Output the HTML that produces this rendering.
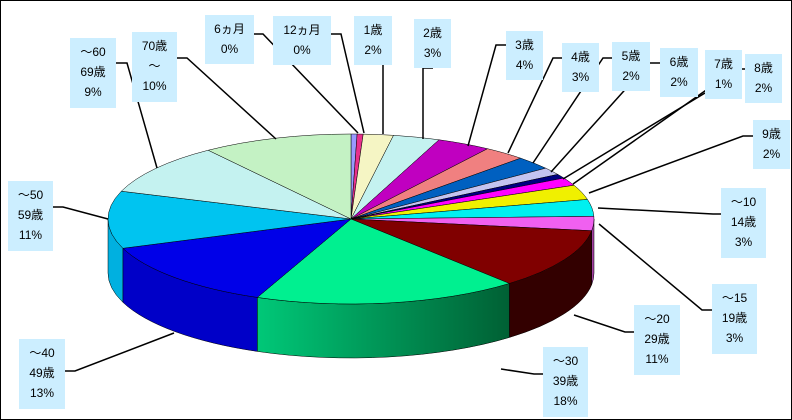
<!DOCTYPE html>
<html><head><meta charset="utf-8"><style>
body{margin:0;background:#fff}
#c{position:relative;width:790px;height:418px;border:1px solid #000;overflow:hidden;background:#fff}
svg{position:absolute;left:0;top:0}
.l{position:absolute;background:#cceeff;font:12px "Liberation Sans","Noto Sans CJK JP",sans-serif;line-height:20px;text-align:center;color:#000;padding-top:4px;box-sizing:border-box}
</style></head><body><div id="c">
<svg id="s" width="790" height="418" viewBox="0 0 790 418">
<defs><linearGradient id="g" x1="0" x2="1" y1="0" y2="0"><stop offset="0" stop-color="#00c878"/><stop offset="1" stop-color="#006034"/></linearGradient></defs>
<g id="pie"></g>
<g fill="none" stroke="#000" stroke-width="1.5">
<polyline points="253,33 262,33 357,132"/>
<polyline points="330,33 340,33 363,132"/>
<polyline points="382,64 382,133"/>
<polyline points="432,67 422,67 422,138"/>
<polyline points="505,44 495,44 467,145"/>
<polyline points="561,57 552,57 507,152"/>
<polyline points="611,57 602,57 532,162"/>
<polyline points="659,62 648,62 550,171"/>
<polyline points="704,92 562,178"/>
<polyline points="744,68 735,68 572,183"/>
<polyline points="752,135 742,135 588,192"/>
<polyline points="720,213 712,213 597,207"/>
<polyline points="711,309 701,309 598,223"/>
<polyline points="633,331 624,331 573,314"/>
<polyline points="542,373 533,373 500,368"/>
<polyline points="64,370 74,370 173,332"/>
<polyline points="52,206 62,206 107,218"/>
<polyline points="115,62 126,62 156,167"/>
<polyline points="176,57 186,57 275,138"/>
</g>
</svg>
<div class="l" style="left:204px;top:14px;width:49px;height:49px">6ヵ月<br>0%</div>
<div class="l" style="left:272px;top:15px;width:58px;height:49px">12ヵ月<br>0%</div>
<div class="l" style="left:353px;top:15px;width:38px;height:49px">1歳<br>2%</div>
<div class="l" style="left:413px;top:18px;width:37px;height:49px">2歳<br>3%</div>
<div class="l" style="left:505px;top:30px;width:37px;height:49px">3歳<br>4%</div>
<div class="l" style="left:561px;top:42px;width:37px;height:49px">4歳<br>3%</div>
<div class="l" style="left:611px;top:41px;width:38px;height:49px">5歳<br>2%</div>
<div class="l" style="left:659px;top:47px;width:38px;height:49px">6歳<br>2%</div>
<div class="l" style="left:704px;top:49px;width:37px;height:49px">7歳<br>1%</div>
<div class="l" style="left:744px;top:53px;width:37px;height:49px">8歳<br>2%</div>
<div class="l" style="left:752px;top:119px;width:37px;height:49px">9歳<br>2%</div>
<div class="l" style="left:720px;top:187px;width:45px;height:70px">～10<br>14歳<br>3%</div>
<div class="l" style="left:711px;top:283px;width:45px;height:70px">～15<br>19歳<br>3%</div>
<div class="l" style="left:633px;top:304px;width:46px;height:70px">～20<br>29歳<br>11%</div>
<div class="l" style="left:542px;top:346px;width:45px;height:70px">～30<br>39歳<br>18%</div>
<div class="l" style="left:18px;top:338px;width:46px;height:70px">～40<br>49歳<br>13%</div>
<div class="l" style="left:7px;top:180px;width:45px;height:70px">～50<br>59歳<br>11%</div>
<div class="l" style="left:69px;top:37px;width:46px;height:70px">～60<br>69歳<br>9%</div>
<div class="l" style="left:131px;top:31px;width:45px;height:70px">70歳<br>～<br>10%</div>
</div>
<script>
var cx=350,cy=218,rx=243,ry=85,d=54;
var S=[[0.4,'#9999ff'],[0.4,'#e8308c'],[2.0,'#f5f5c4'],[3.1,'#c4f2f0'],[3.6,'#c000c0'],[2.8,'#f08080'],[2.5,'#0060c0'],[1.4,'#c4c4f0'],[0.8,'#000080'],[1.5,'#ff00ff'],[2.8,'#f0f000'],[3.2,'#00f0f0'],[2.7,'#f060f0','#a040a0'],[11.5,'#800000','#330000'],[17.6,'#00f090','url(#g)'],[13.1,'#0000e8','#0000c8'],[10.9,'#00c4f0','#00b0e0'],[9.7,'#c4f2f0'],[10,'#c4f2c4']];
function P(t,dy){t=t*Math.PI/180;return (cx+rx*Math.cos(t)).toFixed(2)+','+(cy+ry*Math.sin(t)+(dy||0)).toFixed(2);}
var side='',tp='',c=0;
S.forEach(function(s){var a=-90+c*3.6;c+=s[0];var b=-90+c*3.6;
 if(s[2]){var a1=Math.max(a,0),b1=Math.min(b,180);if(b1>a1){side+='<path d="M'+P(a1)+' A'+rx+' '+ry+' 0 0 1 '+P(b1)+' L'+P(b1,d)+' A'+rx+' '+ry+' 0 0 0 '+P(a1,d)+' Z" fill="'+s[2]+'" stroke="#000" stroke-width="0.5"/>';}}
 tp+='<path d="M'+cx+','+cy+' L'+P(a)+' A'+rx+' '+ry+' 0 '+((b-a)>180?1:0)+' 1 '+P(b)+' Z" fill="'+s[1]+'" stroke="#000" stroke-width="0.5"/>';});
document.getElementById('pie').innerHTML=side+tp;
</script>
</body></html>
